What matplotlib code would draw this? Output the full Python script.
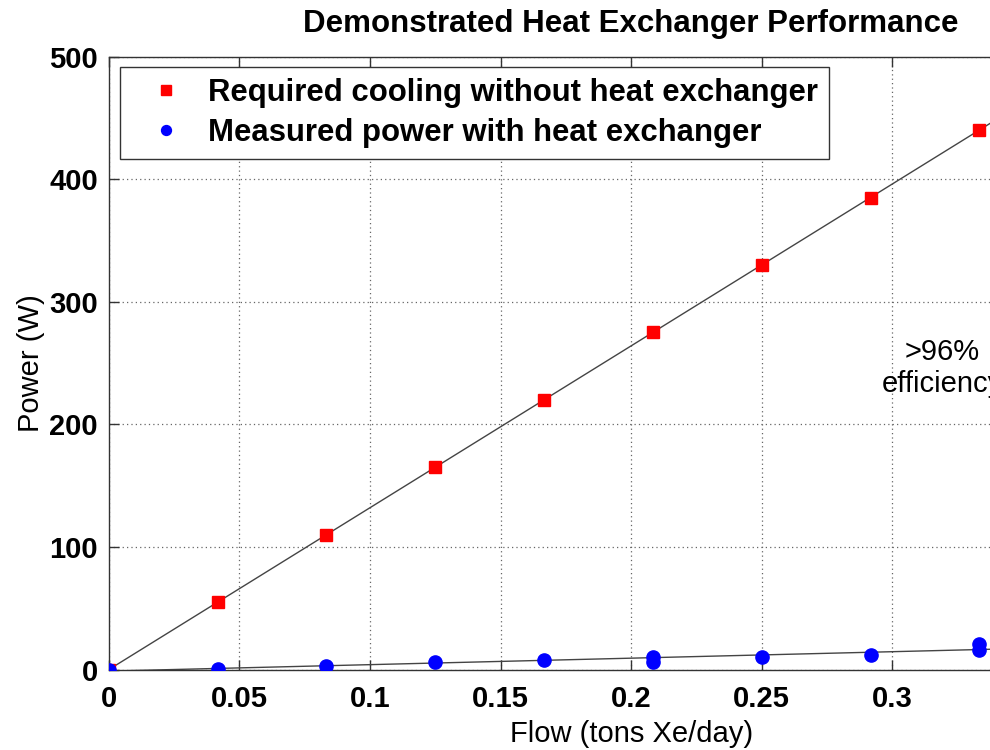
import matplotlib
matplotlib.use("Agg")
import matplotlib.pyplot as plt
import numpy as np

# ── Data ─────────────────────────────────────────────────────────────────────
flow_red = [0, 0.0417, 0.0833, 0.125, 0.1667, 0.2083, 0.25, 0.2917, 0.3333]
power_red = [0, 55, 110, 165, 220, 275, 330, 385, 440]

flow_blue = [0, 0.0417, 0.0833, 0.125, 0.1667, 0.2083, 0.2083, 0.25, 0.2917,
             0.3333, 0.3333]
power_blue = [0, 0.5, 3, 6.5, 8, 6, 10, 10.5, 12, 16, 21]

xticks = [0, 0.05, 0.1, 0.15, 0.2, 0.25, 0.3, 0.35, 0.4]
# labels past 0.3 fall outside the cropped picture
xticklabels = ["0", "0.05", "0.1", "0.15", "0.2", "0.25", "0.3", "", ""]
yticks = [0, 100, 200, 300, 400, 500]

plt.rcParams["font.family"] = ["Liberation Sans", "DejaVu Sans"]

fig = plt.figure(figsize=(9.9, 7.5), dpi=100)
fig.patch.set_facecolor("white")
# axes run past the right edge of the picture (cropped original)
ax = fig.add_axes([0.110, 0.1073, 1.055, 0.8173])

# linear fits
xfit = np.array([0, 0.35])
p_red = np.polyfit(flow_red, power_red, 1)
p_blue = np.polyfit(flow_blue, power_blue, 1)
ax.plot(xfit, np.polyval(p_red, xfit), "-", color="#444444", lw=1.0, zorder=2)
ax.plot(xfit, np.polyval(p_blue, xfit), "-", color="#444444", lw=1.0, zorder=2)

ax.plot(flow_red, power_red, "s", color="#ff0000", ms=9, mec="#ff0000",
        ls="none", zorder=3, label="Required cooling without heat exchanger")
ax.plot(flow_blue, power_blue, "o", color="#0000ff", ms=9.5, mec="#0000ff",
        ls="none", zorder=4, label="Measured power with heat exchanger")

ax.set_xlim(0, 0.4)
ax.set_ylim(0, 500)
ax.set_xticks(xticks)
ax.set_xticklabels(xticklabels)
ax.set_yticks(yticks)

ax.tick_params(direction="in", length=7, width=1, colors="#333333",
               top=True, right=True, labelsize=21, labelcolor="black")
ax.tick_params(axis="x", pad=11)
ax.tick_params(axis="y", pad=8)
for lab in ax.get_xticklabels() + ax.get_yticklabels():
    lab.set_fontweight("bold")

for s in ax.spines.values():
    s.set_color("#333333")
    s.set_linewidth(1.0)

ax.grid(True, linestyle=(0, (1, 2.5)), color="#666666", lw=0.9)
ax.set_axisbelow(True)

ax.set_xlabel("Flow (tons Xe/day)", fontsize=21, labelpad=5)
ax.set_ylabel("Power (W)", fontsize=21, labelpad=3)
ax.set_title("Demonstrated Heat Exchanger Performance", fontsize=22.5,
             fontweight="bold", pad=18)

ax.text(0.3192, 246, ">96%\nefficiency", ha="center", va="center",
        fontsize=21, linespacing=1.2)

leg = ax.legend(loc="upper left", prop={"weight": "bold", "size": 22.4},
                frameon=True, fancybox=False, framealpha=1, edgecolor="#333333",
                borderpad=0.35, handlelength=2.3, handletextpad=0.2,
                labelspacing=0.3, borderaxespad=0.35, markerscale=0.75)
leg.get_frame().set_linewidth(1.0)

fig.savefig("out.png", dpi=100, facecolor="white")
